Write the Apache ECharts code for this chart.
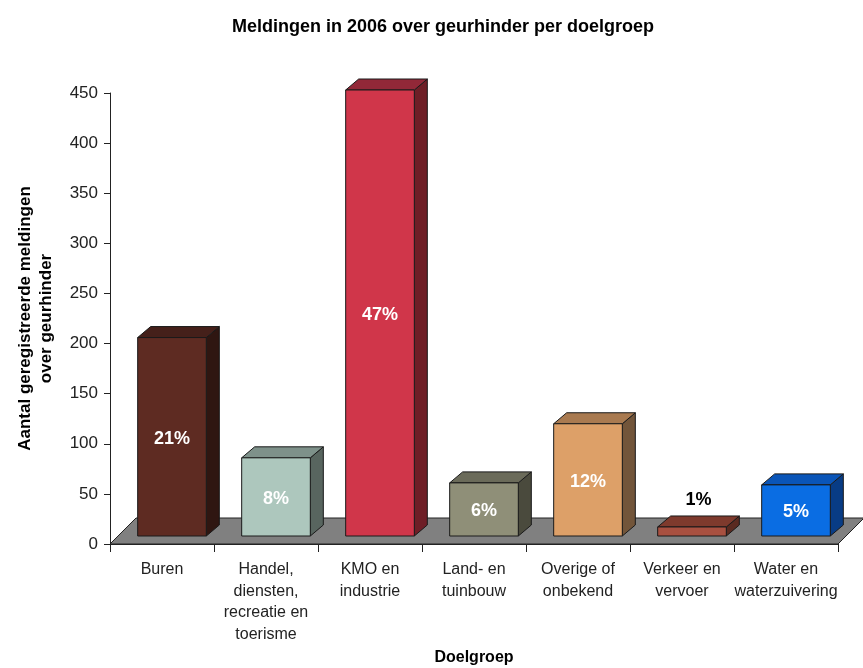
<!DOCTYPE html>
<html>
<head>
<meta charset="utf-8">
<script src="https://cdn.jsdelivr.net/npm/echarts@6/dist/echarts.min.js"></script>
<style>
html,body{margin:0;padding:0;background:#fff;}
#chart{width:863px;height:668px;}
</style>
</head>
<body>
<div id="chart"></div>
<script>
// ---- data ----
const categories = ['Buren', 'Handel,\ndiensten,\nrecreatie en\ntoerisme', 'KMO en\nindustrie', 'Land- en\ntuinbouw', 'Overige of\nonbekend', 'Verkeer en\nvervoer', 'Water en\nwaterzuivering'];
const meldingen = [198, 78, 445, 53, 112, 9, 51];
const percentages = ['21%', '8%', '47%', '6%', '12%', '1%', '5%'];
const yTicks = [0, 50, 100, 150, 200, 250, 300, 350, 400, 450];

// ---- styles ----
const frontColors = ['#5E2B22', '#ADC7BD', '#D0364A', '#8F8F78', '#DDA068', '#A85040', '#0A6DE3'];
const topColors   = ['#45201A', '#7E918A', '#922838', '#6B6B5A', '#A97A50', '#7E3A2D', '#0A55B8'];
const sideColors  = ['#2F1611', '#58655F', '#6E1E26', '#4A4A3D', '#72553A', '#5A2A20', '#083C85'];

const FONT = 'Liberation Sans, Arial, sans-serif';
const FLOOR_DEPTH = 26;   // px, oblique depth of floor
const BAR_OFFSET_X = 10;  // px, front of bar behind front of floor
const BAR_OFFSET_Y = 8;
const BAR_DX = 13, BAR_DY = -11;
const BAR_FRAC = 0.66;

const chart = echarts.init(document.getElementById('chart'));

function renderFloor(params, api) {
  const cs = params.coordSys;
  const x0 = cs.x, x1 = cs.x + cs.width, y = cs.y + cs.height;
  return {
    type: 'polygon',
    shape: { points: [[x0, y], [x1, y], [x1 + FLOOR_DEPTH, y - FLOOR_DEPTH], [x0 + FLOOR_DEPTH, y - FLOOR_DEPTH]] },
    style: { fill: '#808080', stroke: '#222', lineWidth: 1 }
  };
}

function renderBar(params, api) {
  const i = api.value(0), v = api.value(1);
  const base = api.coord([i, 0]);
  const top = api.coord([i, v]);
  const bw = api.size([1, 0])[0];
  const w = bw * BAR_FRAC;
  const fx0 = base[0] - w / 2 + BAR_OFFSET_X, fx1 = fx0 + w;
  const fyb = base[1] - BAR_OFFSET_Y, fyt = top[1] - BAR_OFFSET_Y;
  const idx = params.dataIndex;
  const stroke = '#1a1a1a';
  const children = [
    { type: 'polygon', shape: { points: [[fx1, fyt], [fx1 + BAR_DX, fyt + BAR_DY], [fx1 + BAR_DX, fyb + BAR_DY], [fx1, fyb]] },
      style: { fill: sideColors[idx], stroke: stroke, lineWidth: 1 } },
    { type: 'polygon', shape: { points: [[fx0, fyt], [fx1, fyt], [fx1 + BAR_DX, fyt + BAR_DY], [fx0 + BAR_DX, fyt + BAR_DY]] },
      style: { fill: topColors[idx], stroke: stroke, lineWidth: 1 } },
    { type: 'rect', shape: { x: fx0, y: fyt, width: w, height: fyb - fyt },
      style: { fill: frontColors[idx], stroke: stroke, lineWidth: 1 } }
  ];
  const h = fyb - fyt;
  if (h > 30) {
    children.push({ type: 'text', x: (fx0 + fx1) / 2, y: (fyt + fyb) / 2 + 2,
      style: { text: percentages[idx], fill: '#fff', font: 'bold 18px ' + FONT, align: 'center', verticalAlign: 'middle' } });
  } else {
    children.push({ type: 'text', x: (fx0 + fx1) / 2 + BAR_DX / 2, y: fyt + BAR_DY - 16,
      style: { text: percentages[idx], fill: '#000', font: 'bold 18px ' + FONT, align: 'center', verticalAlign: 'middle' } });
  }
  return { type: 'group', children: children };
}

const option = {
  animation: false,
  backgroundColor: '#fff',
  title: {
    text: 'Meldingen in 2006 over geurhinder per doelgroep',
    left: 438, top: 13, textAlign: 'center',
    textStyle: { fontFamily: FONT, fontSize: 18, fontWeight: 'bold', color: '#000' }
  },
  grid: { left: 110, right: 25, top: 93, bottom: 124, containLabel: false, outerBoundsMode: 'none' },
  xAxis: {
    type: 'category',
    data: categories,
    name: 'Doelgroep',
    nameLocation: 'middle',
    nameGap: 106,
    nameTextStyle: { fontFamily: FONT, fontSize: 16, fontWeight: 'bold', color: '#000' },
    axisLine: { lineStyle: { color: '#222', width: 1 } },
    axisTick: { show: true, length: 8, lineStyle: { color: '#222' } },
    axisLabel: { interval: 0, margin: 15, fontFamily: FONT, fontSize: 16, lineHeight: 21.5, color: '#222' }
  },
  yAxis: {
    type: 'value',
    min: yTicks[0], max: yTicks[yTicks.length - 1], interval: yTicks[1] - yTicks[0],
    name: 'Aantal geregistreerde meldingen\nover geurhinder',
    nameLocation: 'middle',
    nameRotate: 90,
    nameGap: 53,
    nameTextStyle: { fontFamily: FONT, fontSize: 17, fontWeight: 'bold', color: '#000', lineHeight: 21 },
    axisLine: { show: true, lineStyle: { color: '#222', width: 1 } },
    axisTick: { show: true, length: 6, lineStyle: { color: '#222' } },
    axisLabel: { margin: 12, fontFamily: FONT, fontSize: 17, color: '#222' },
    splitLine: { show: false }
  },
  series: [
    { type: 'custom', renderItem: renderFloor, data: [[0, 0]], silent: true, z: 1 },
    { type: 'custom', renderItem: renderBar, data: meldingen.map((v, i) => [i, v]), z: 2,
      encode: { x: 0, y: 1 } }
  ]
};
chart.setOption(option);
</script>
</body>
</html>
